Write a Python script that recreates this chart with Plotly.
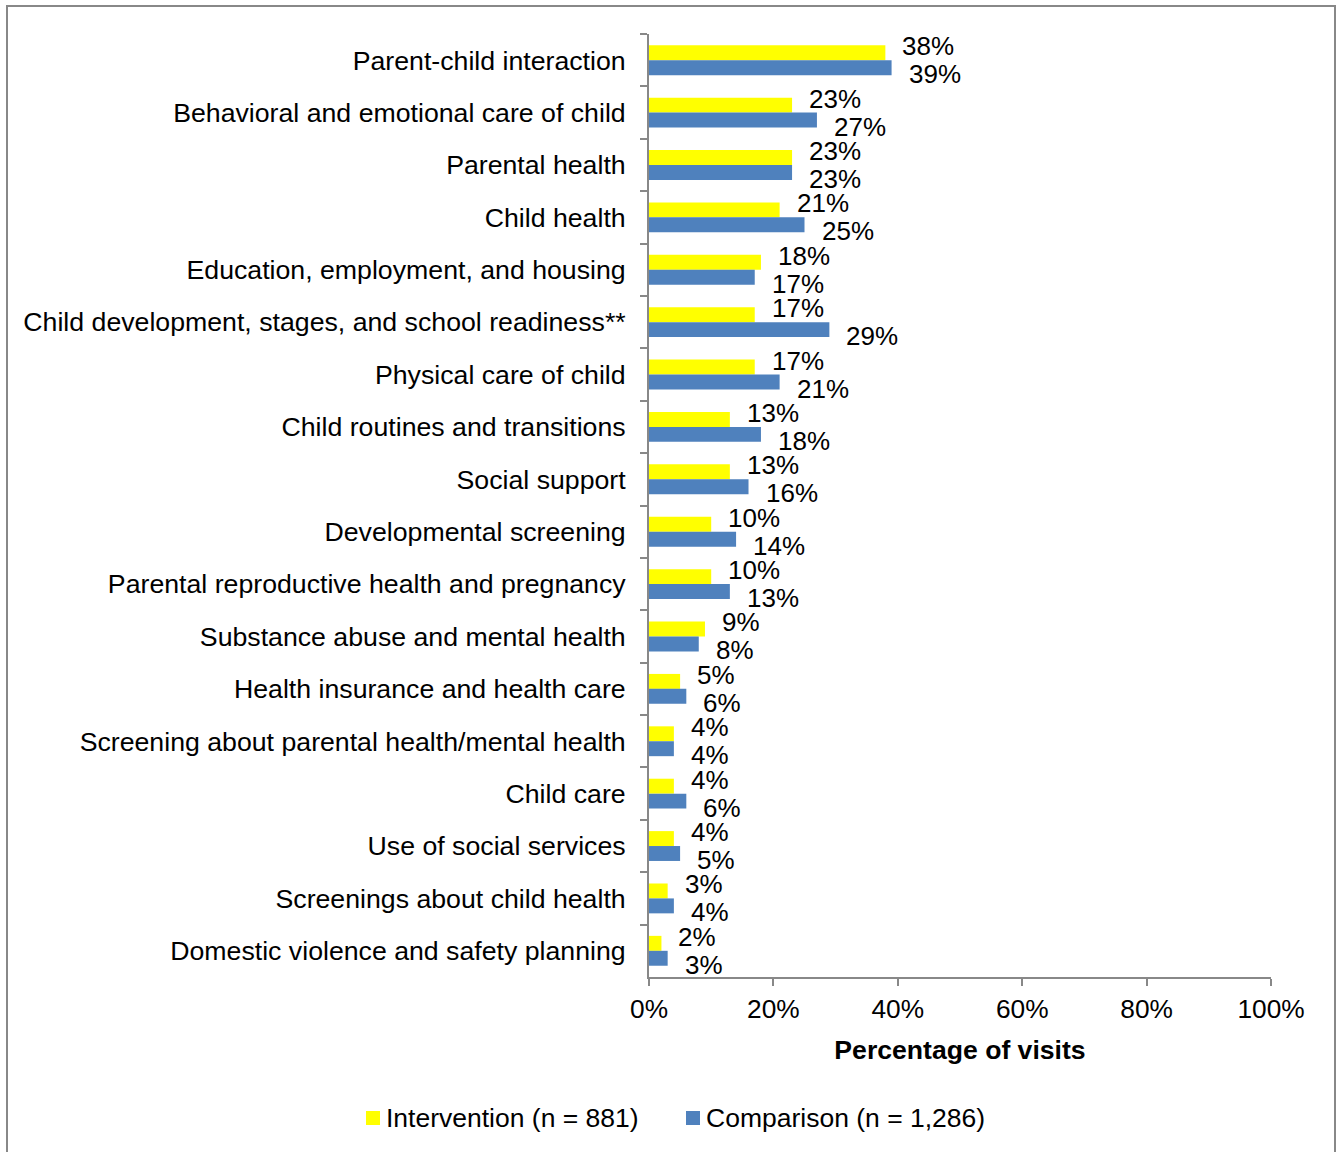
import plotly.graph_objects as go

# Topics discussed during home visits
topics = [
    "Parent-child interaction",
    "Behavioral and emotional care of child",
    "Parental health",
    "Child health",
    "Education, employment, and housing",
    "Child development, stages, and school readiness**",
    "Physical care of child",
    "Child routines and transitions",
    "Social support",
    "Developmental screening",
    "Parental reproductive health and pregnancy",
    "Substance abuse and mental health",
    "Health insurance and health care",
    "Screening about parental health/mental health",
    "Child care",
    "Use of social services",
    "Screenings about child health",
    "Domestic violence and safety planning",
]

# Percentage of visits covering each topic
intervention = [38, 23, 23, 21, 18, 17, 17, 13, 13, 10, 10, 9, 5, 4, 4, 4, 3, 2]
comparison = [39, 27, 23, 25, 17, 29, 21, 18, 16, 14, 13, 8, 6, 4, 6, 5, 4, 3]

series_names = ["Intervention (n = 881)", "Comparison (n = 1,286)"]
x_ticks = [0, 20, 40, 60, 80, 100]

YELLOW = "#FFFF00"
BLUE = "#4F81BD"
AXIS_GRAY = "#888888"
FONT = "Liberation Sans, Arial, sans-serif"

W, H = 1343, 1152
L, R, T, B = 649, 72, 34, 175
PW, PH = W - L - R, H - T - B


def px_to_paper_x(px):
    return (px - L) / PW


def px_to_paper_y(py):
    return 1 - (py - T) / PH


fig = go.Figure()
fig.add_trace(go.Bar(
    y=topics, x=intervention, orientation="h", name=series_names[0],
    marker=dict(color=YELLOW, line=dict(width=0)), showlegend=False,
))
fig.add_trace(go.Bar(
    y=topics, x=comparison, orientation="h", name=series_names[1],
    marker=dict(color=BLUE, line=dict(width=0)), showlegend=False,
))

# Value labels just past the end of each bar
annotations = []
for topic, a, b in zip(topics, intervention, comparison):
    for val, ys in ((a, 14), (b, -14)):
        annotations.append(dict(
            x=val, y=topic, xref="x", yref="y", text=f"{val}%",
            showarrow=False, xanchor="left", yanchor="middle",
            xshift=15, yshift=ys,
            font=dict(family=FONT, size=26, color="#000000"),
        ))

# Legend below the axis: colour key squares with their series names
shapes = []
legend_items = [(series_names[0], YELLOW, 366), (series_names[1], BLUE, 686)]
for name, color, left in legend_items:
    shapes.append(dict(
        type="rect", xref="paper", yref="paper",
        x0=px_to_paper_x(left), x1=px_to_paper_x(left + 14),
        y0=px_to_paper_y(1125), y1=px_to_paper_y(1111),
        fillcolor=color, line=dict(width=0),
    ))
    annotations.append(dict(
        x=px_to_paper_x(left + 18), y=px_to_paper_y(1118),
        xref="paper", yref="paper", text=name, showarrow=False,
        xanchor="left", yanchor="middle",
        font=dict(family=FONT, size=26.5, color="#000000"),
    ))

# Outer chart frame
shapes.append(dict(
    type="rect", xref="paper", yref="paper",
    x0=px_to_paper_x(7), x1=px_to_paper_x(1335),
    y0=px_to_paper_y(1170), y1=px_to_paper_y(6),
    line=dict(color=AXIS_GRAY, width=2), fillcolor="rgba(0,0,0,0)",
    layer="below",
))

fig.update_layout(
    width=W, height=H,
    margin=dict(l=L, r=R, t=T, b=B, pad=0),
    paper_bgcolor="white", plot_bgcolor="white",
    barmode="group", bargap=0.43, bargroupgap=0,
    font=dict(family=FONT, size=26.5, color="#000000"),
    annotations=annotations,
    shapes=shapes,
    showlegend=False,
)

fig.update_xaxes(
    range=[0, 100], tickvals=x_ticks, ticktext=[f"{v}%" for v in x_ticks],
    showgrid=False, zeroline=False,
    showline=True, linecolor=AXIS_GRAY, linewidth=2,
    ticks="outside", ticklen=7, tickwidth=2, tickcolor=AXIS_GRAY,
    tickfont=dict(family=FONT, size=26.3, color="#000000"),
    title=dict(text="<b>Percentage of visits</b>", standoff=18,
               font=dict(family=FONT, size=26.6, color="#000000")),
)

fig.update_yaxes(
    range=[len(topics) - 0.5, -0.5], type="category",
    showgrid=False, zeroline=False,
    showline=True, linecolor=AXIS_GRAY, linewidth=2,
    ticks="outside", ticklen=7, tickwidth=2, tickcolor=AXIS_GRAY,
    tickson="boundaries", ticklabelstandoff=16,
    tickfont=dict(family=FONT, size=26.7, color="#000000"),
)

fig.write_html("out.html")
